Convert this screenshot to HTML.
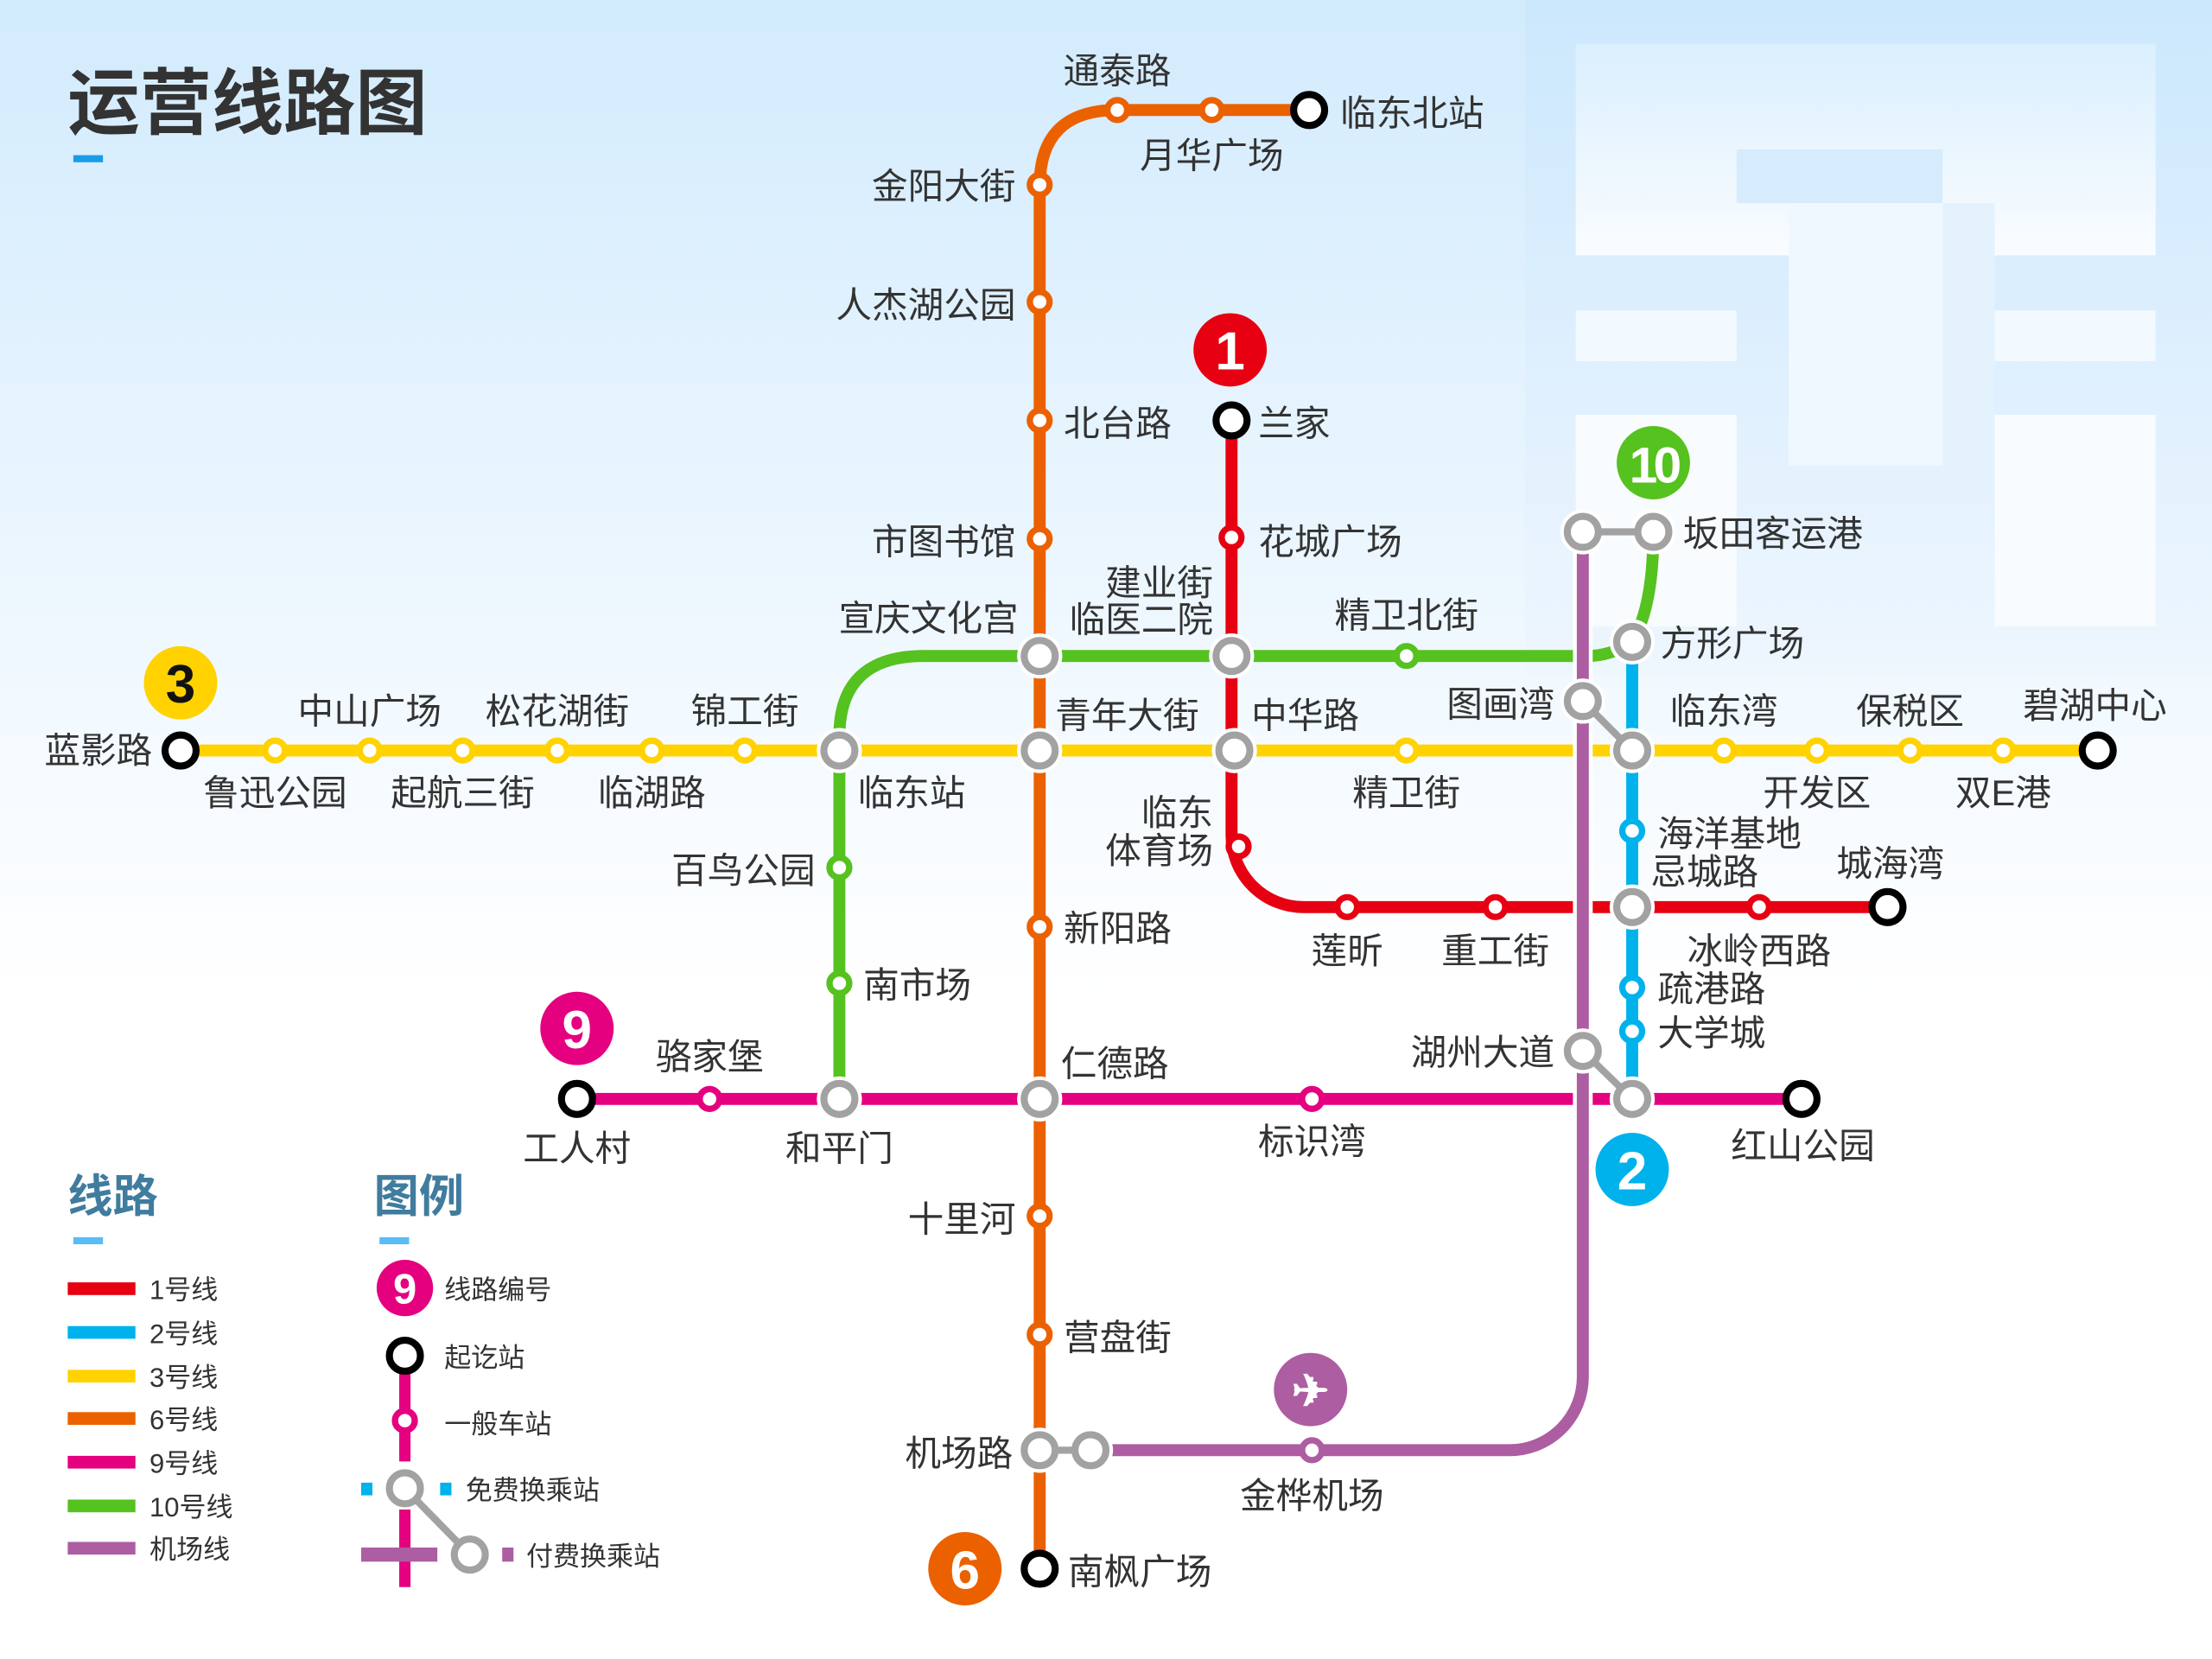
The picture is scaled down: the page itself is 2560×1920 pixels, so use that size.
<!DOCTYPE html>
<html><head><meta charset="utf-8">
<style>
html,body{margin:0;padding:0;width:2560px;height:1920px;overflow:hidden;background:#fff}
svg{display:block}
text{font-family:"Liberation Sans","Noto Sans CJK SC",sans-serif;fill:#333;font-size:25.5px}
.g{fill:#fff;stroke-width:4.5}
.h{fill:#fff}
.r{fill:#fff;stroke:#a2a2a2;stroke-width:5}
.t{fill:#fff;stroke:#000;stroke-width:5}
.ln{fill:none;stroke-width:8.5;stroke-linecap:butt}
.m{text-anchor:middle}
.e{text-anchor:end}
.b{font-weight:bold;fill:#fff;text-anchor:middle}
.lg{font-size:19px}
</style></head><body>
<svg width="2560" height="1920" viewBox="0 0 1568 1176" xmlns="http://www.w3.org/2000/svg">
<defs>
<linearGradient id="bg" x1="0" y1="0" x2="0" y2="1">
<stop offset="0" stop-color="#d2ebfd"/><stop offset="0.45" stop-color="#f4faff"/><stop offset="0.6" stop-color="#fff"/></linearGradient>
<linearGradient id="wo" x1="0" y1="0" x2="0" y2="1">
<stop offset="0" stop-color="#cce8fd"/><stop offset="1" stop-color="#eef6fe"/></linearGradient>
<linearGradient id="wi" x1="0" y1="0" x2="0" y2="1">
<stop offset="0" stop-color="#dcf0fe"/><stop offset="1" stop-color="#fdfeff"/></linearGradient>
</defs>
<rect width="1568" height="1176" fill="url(#bg)"/>
<g>
<rect x="1081" y="0" width="487" height="478" fill="url(#wo)"/>
<rect x="1117" y="31" width="411" height="150" fill="url(#wi)" opacity="0.9"/>
<rect x="1117" y="220" width="114" height="36" fill="#f2f9ff"/>
<rect x="1414" y="220" width="114" height="36" fill="#f2f9ff"/>
<rect x="1117" y="294" width="114" height="150" fill="#f9fcff"/>
<rect x="1414" y="294" width="114" height="150" fill="#f9fcff"/>
<rect x="1231" y="106" width="146" height="38" fill="#d6ecfd"/>
<rect x="1268" y="144" width="109" height="186" fill="#f0f8ff"/>
<rect x="1377" y="144" width="37" height="186" fill="#e4f2fe"/>
</g>
<text x="48" y="91" style="font-size:51px;font-weight:bold;fill:#333">运营线路图</text>
<rect x="52" y="110" width="21" height="5" fill="#1a9be6"/>

<path class="ln" stroke="#ffd200" d="M128,532H1487"/>
<path class="ln" stroke="#eb6100" d="M737,1112V132Q737,78 792,78H928"/>
<path class="ln" stroke="#e60012" d="M873,298V592A51,51 0 0 0 924,643H1338"/>
<path class="ln" stroke="#55c21f" d="M595,779V522Q595,465 655,465H1125Q1142,465 1157,455Q1172,430 1172,377"/>
<path class="ln" stroke="#00b2ec" d="M1157,455V779"/>
<path class="ln" stroke="#e4007f" d="M409,779H1277"/>
<path class="ln" stroke="#fff" style="stroke-width:14" d="M1122,377V976A52,52 0 0 1 1070,1028H773"/>
<path class="ln" stroke="#ad5da1" d="M1122,377V976A52,52 0 0 1 1070,1028H773"/>

<g class="h">
<circle cx="595" cy="532" r="16"/><circle cx="737" cy="532" r="16"/><circle cx="875" cy="532" r="16"/><circle cx="1157" cy="532" r="16"/>
<circle cx="737" cy="465" r="16"/><circle cx="873" cy="465" r="16"/><circle cx="1157" cy="455" r="16"/>
<circle cx="1172" cy="377" r="16"/><circle cx="1122" cy="377" r="16"/><circle cx="1122" cy="497" r="16"/>
<circle cx="1157" cy="643" r="16"/><circle cx="595" cy="779" r="16"/><circle cx="737" cy="779" r="16"/>
<circle cx="1157" cy="779" r="16"/><circle cx="1122" cy="745" r="16"/><circle cx="737" cy="1028" r="16"/><circle cx="773" cy="1028" r="16"/>
</g>
<g stroke="#a2a2a2" stroke-width="5">
<line x1="1122" y1="377" x2="1172" y2="377"/>
<line x1="1122" y1="497" x2="1157" y2="532"/>
<line x1="1122" y1="745" x2="1157" y2="779"/>
<line x1="737" y1="1028" x2="773" y2="1028"/>
</g>
<g class="r">
<circle cx="595" cy="532" r="11"/><circle cx="737" cy="532" r="11"/><circle cx="875" cy="532" r="11"/><circle cx="1157" cy="532" r="11"/>
<circle cx="737" cy="465" r="11"/><circle cx="873" cy="465" r="11"/><circle cx="1157" cy="455" r="11"/>
<circle cx="1172" cy="377" r="11"/><circle cx="1122" cy="377" r="11"/><circle cx="1122" cy="497" r="11"/>
<circle cx="1157" cy="643" r="11"/><circle cx="595" cy="779" r="11"/><circle cx="737" cy="779" r="11"/>
<circle cx="1157" cy="779" r="11"/><circle cx="1122" cy="745" r="11"/><circle cx="737" cy="1028" r="11"/><circle cx="773" cy="1028" r="11"/>
</g>
<g class="g" stroke="#ffd200">
<circle cx="195" cy="532" r="7"/><circle cx="262" cy="532" r="7"/><circle cx="328" cy="532" r="7"/><circle cx="395" cy="532" r="7"/>
<circle cx="462" cy="532" r="7"/><circle cx="528" cy="532" r="7"/><circle cx="997" cy="532" r="7"/>
<circle cx="1222" cy="532" r="7"/><circle cx="1288" cy="532" r="7"/><circle cx="1354" cy="532" r="7"/><circle cx="1420" cy="532" r="7"/>
</g>
<g class="g" stroke="#eb6100">
<circle cx="737" cy="131" r="7"/><circle cx="737" cy="214" r="7"/><circle cx="737" cy="298" r="7"/><circle cx="737" cy="382" r="7"/>
<circle cx="737" cy="657" r="7"/><circle cx="737" cy="862" r="7"/><circle cx="737" cy="946" r="7"/>
<circle cx="792" cy="78" r="7"/><circle cx="859" cy="78" r="7"/>
</g>
<g class="g" stroke="#e60012">
<circle cx="873" cy="381" r="7"/><circle cx="878" cy="600" r="7"/><circle cx="955" cy="643" r="7"/><circle cx="1060" cy="643" r="7"/><circle cx="1247" cy="643" r="7"/>
</g>
<g class="g" stroke="#55c21f">
<circle cx="595" cy="615" r="7"/><circle cx="595" cy="697" r="7"/><circle cx="997" cy="465" r="7"/>
</g>
<g class="g" stroke="#00b2ec">
<circle cx="1157" cy="589" r="7"/><circle cx="1157" cy="700" r="7"/><circle cx="1157" cy="731" r="7"/>
</g>
<g class="g" stroke="#e4007f">
<circle cx="503" cy="779" r="7"/><circle cx="930" cy="779" r="7"/>
</g>
<g class="g" stroke="#ad5da1"><circle cx="930" cy="1028" r="7"/></g>
<g class="t">
<circle cx="128" cy="532" r="11"/><circle cx="1487" cy="532" r="11"/><circle cx="928" cy="78" r="11"/>
<circle cx="737" cy="1112" r="11"/><circle cx="873" cy="298" r="11"/><circle cx="1338" cy="643" r="11"/>
<circle cx="409" cy="779" r="11"/><circle cx="1277" cy="779" r="11"/>
</g>
<circle cx="128" cy="484" r="26" fill="#ffd200"/><text x="128" y="498" class="b" style="fill:#111;font-size:38px">3</text>
<circle cx="684" cy="1112" r="26" fill="#eb6100"/><text x="684" y="1126" class="b" style="font-size:38px">6</text>
<circle cx="872" cy="248" r="26" fill="#e60012"/><text x="872" y="262" class="b" style="font-size:38px">1</text>
<circle cx="1172" cy="328" r="26" fill="#55c21f"/><text x="1172" y="342" class="b" style="font-size:36px;letter-spacing:-3px">10</text>
<circle cx="1157" cy="829" r="26" fill="#00b2ec"/><text x="1157" y="843" class="b" style="font-size:38px">2</text>
<circle cx="409" cy="729" r="26" fill="#e4007f"/><text x="409" y="743" class="b" style="font-size:38px">9</text>
<circle cx="929" cy="985" r="26" fill="#ad5da1"/><text x="929" y="997" class="b" style="font-size:32px">✈</text>

<text x="108" y="541" class="e">蓝影路</text>
<text x="195" y="571" class="m">鲁迅公园</text>
<text x="262" y="513" class="m">中山广场</text>
<text x="328" y="571" class="m">起航三街</text>
<text x="395" y="513" class="m">松花湖街</text>
<text x="462" y="571" class="m">临湖路</text>
<text x="528" y="513" class="m">锦工街</text>
<text x="608" y="571">临东站</text>
<text x="748" y="516">青年大街</text>
<text x="887" y="516">中华路</text>
<text x="997" y="571" class="m">精卫街</text>
<text x="1222" y="513" class="m">临东湾</text>
<text x="1288" y="571" class="m">开发区</text>
<text x="1354" y="513" class="m">保税区</text>
<text x="1420" y="571" class="m">双E港</text>
<text x="1485" y="509" class="m">碧湖中心</text>

<text x="792" y="59" class="m">通泰路</text>
<text x="859" y="119" class="m">月华广场</text>
<text x="950" y="89">临东北站</text>
<text x="720" y="141" class="e">金阳大街</text>
<text x="720" y="225" class="e">人杰湖公园</text>
<text x="754" y="309">北台路</text>
<text x="720" y="393" class="e">市图书馆</text>
<text x="722" y="447" class="e">宣庆文化宫</text>
<text x="754" y="667">新阳路</text>
<text x="752" y="763">仁德路</text>
<text x="720" y="873" class="e">十里河</text>
<text x="754" y="957">营盘街</text>
<text x="718" y="1039" class="e">机场路</text>
<text x="757" y="1123">南枫广场</text>

<text x="892" y="309">兰家</text>
<text x="892" y="393">花城广场</text>
<text x="860" y="422" class="e">建业街</text>
<text x="860" y="448" class="e">临医二院</text>
<text x="860" y="585" class="e">临东</text>
<text x="860" y="612" class="e">体育场</text>
<text x="955" y="683" class="m">莲昕</text>
<text x="1060" y="683" class="m">重工街</text>
<text x="1247" y="683" class="m">冰岭西路</text>
<text x="1340" y="621" class="m">城海湾</text>

<text x="578" y="626" class="e">百鸟公园</text>
<text x="612" y="707">南市场</text>
<text x="997" y="445" class="m">精卫北街</text>
<text x="1177" y="465">方形广场</text>
<text x="1193" y="387">坂田客运港</text>

<text x="1175" y="600">海洋基地</text>
<text x="1170" y="627">忌城路</text>
<text x="1175" y="710">疏港路</text>
<text x="1175" y="741">大学城</text>

<text x="409" y="823" class="m">工人村</text>
<text x="503" y="758" class="m">骆家堡</text>
<text x="595" y="823" class="m">和平门</text>
<text x="930" y="818" class="m">标识湾</text>
<text x="1102" y="755" class="e">湖州大道</text>
<text x="1278" y="821" class="m">红山公园</text>
<text x="930" y="1069" class="m">金桦机场</text>
<text x="1102" y="508" class="e">图画湾</text>

<text x="48" y="859" style="font-size:32px;font-weight:bold;fill:#407c9e">线路</text>
<rect x="52" y="877" width="21" height="5" fill="#5bbcf4"/>
<text x="265" y="859" style="font-size:32px;font-weight:bold;fill:#407c9e">图例</text>
<rect x="269" y="877" width="21" height="5" fill="#5bbcf4"/>
<rect x="48" y="909" width="48" height="9" fill="#e60012"/><text x="106" y="921" class="lg">1号线</text>
<rect x="48" y="940" width="48" height="9" fill="#00b2ec"/><text x="106" y="952" class="lg">2号线</text>
<rect x="48" y="971" width="48" height="9" fill="#ffd200"/><text x="106" y="983" class="lg">3号线</text>
<rect x="48" y="1001" width="48" height="9" fill="#eb6100"/><text x="106" y="1013" class="lg">6号线</text>
<rect x="48" y="1032" width="48" height="9" fill="#e4007f"/><text x="106" y="1044" class="lg">9号线</text>
<rect x="48" y="1063" width="48" height="9" fill="#55c21f"/><text x="106" y="1075" class="lg">10号线</text>
<rect x="48" y="1093" width="48" height="9" fill="#ad5da1"/><text x="106" y="1105" class="lg">机场线</text>

<circle cx="287" cy="913" r="20" fill="#e4007f"/><text x="287" y="924" class="b" style="font-size:30px">9</text>
<text x="315" y="921" class="lg">线路编号</text>
<line x1="287" y1="961" x2="287" y2="1036" stroke="#e4007f" stroke-width="8"/>
<line x1="287" y1="1070" x2="287" y2="1125" stroke="#e4007f" stroke-width="8"/>
<rect x="256" y="1097" width="54" height="10" fill="#ad5da1"/>
<rect x="356" y="1097" width="8" height="10" fill="#ad5da1"/>
<rect x="256" y="1051" width="8" height="9" fill="#00b2ec"/>
<rect x="312" y="1051" width="8" height="9" fill="#00b2ec"/>
<circle cx="287" cy="961" r="11" class="t"/>
<circle cx="287" cy="1007" r="7" class="g" stroke="#e4007f"/>
<text x="315" y="969" class="lg">起讫站</text>
<text x="315" y="1016" class="lg">一般车站</text>
<circle cx="287" cy="1055" r="15" fill="#fff"/><circle cx="333" cy="1102" r="15" fill="#fff"/>
<line x1="287" y1="1055" x2="333" y2="1102" stroke="#a2a2a2" stroke-width="5"/>
<circle cx="287" cy="1055" r="11" class="r"/><circle cx="333" cy="1102" r="11" class="r"/>
<text x="330" y="1063" class="lg">免费换乘站</text>
<text x="373" y="1110" class="lg">付费换乘站</text>
</svg>
</body></html>
